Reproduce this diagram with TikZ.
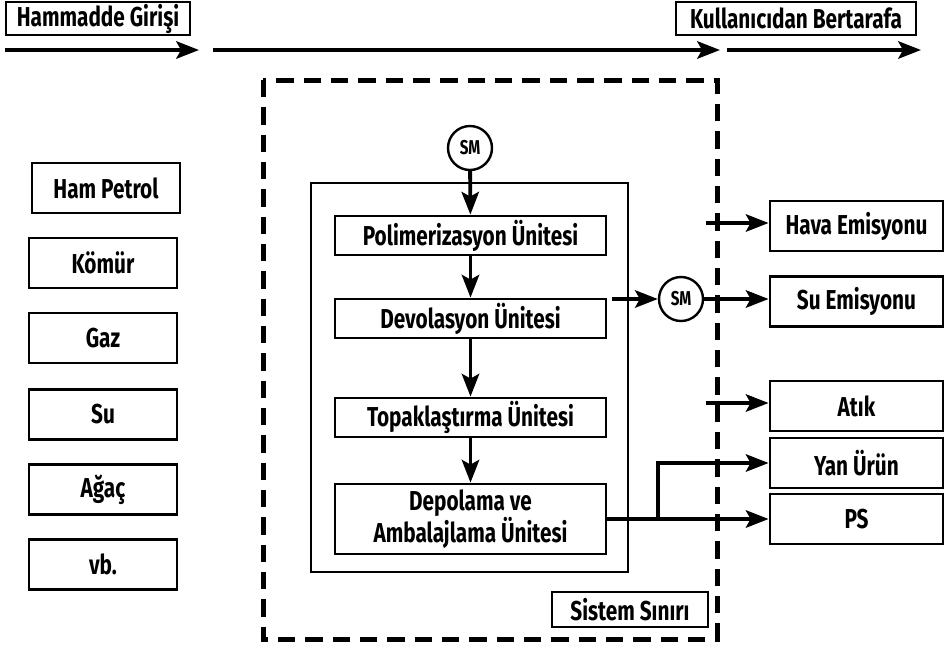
\documentclass[tikz,border=0pt]{standalone}
\usepackage{fontspec}
\setmainfont[FakeStretch=0.76]{Fira Sans}
\usetikzlibrary{arrows.meta}
\tikzset{
  lbl/.style={font=\fontsize{20.5}{23}\selectfont\bfseries, align=center, inner sep=0pt},
  box/.style={lbl, draw, line width=2.1pt, rectangle},
  leftbox/.style={box, minimum width=111pt, minimum height=37.5pt},
  unitbox/.style={box, minimum width=203.25pt, minimum height=29.25pt},
  outbox/.style={box, minimum width=129.75pt, minimum height=37.5pt},
  smnode/.style={draw, circle, line width=1.8pt, minimum size=33pt, inner sep=0pt,
    font=\fontsize{15}{16}\selectfont\bfseries},
  arr/.style={line width=2.9pt, -{Stealth[length=17pt, width=13pt, inset=3.5pt]}},
  boundary/.style={line width=3.75pt, dash pattern=on 13pt off 7.5pt},
}
\begin{document}
\begin{tikzpicture}[x=0.75pt, y=-0.75pt]
  \useasboundingbox (0,0) rectangle (946,647);

  % life-cycle stages along the top
  \node[box, minimum width=138pt, minimum height=24.75pt] (hg) at (98,18.5) {Hammadde Girişi};
  \node[box, minimum width=180pt, minimum height=24.75pt] (kb) at (796,18.5) {Kullanıcıdan Bertarafa};
  \coordinate (t0) at (5,50);
  \coordinate (t1) at (199,50);
  \coordinate (t2) at (213,50);
  \coordinate (t3) at (720,50);
  \coordinate (t4) at (727,50);
  \coordinate (t5) at (921,50);
  \draw[arr] (t0) -- (t1);
  \draw[arr] (t2) -- (t3);
  \draw[arr] (t4) -- (t5);

  % raw material inputs
  \node[leftbox] (hp) at (106,188) {Ham Petrol};
  \node[leftbox] (km) at (103,263) {Kömür};
  \node[leftbox] (gz) at (103,338) {Gaz};
  \node[leftbox] (su) at (103,414.5) {Su};
  \node[leftbox] (ag) at (103,489.5) {Ağaç};
  \node[leftbox] (vb) at (103,564.5) {vb.};

  % system boundary and plant
  \draw[boundary] (263,80) rectangle (717,639);
  \draw[line width=1.6pt] (311,183) rectangle (628,572);

  \node[smnode] (sm1) at (470,148) {SM};
  \node[unitbox] (pol) at (470.5,235.5) {Polimerizasyon Ünitesi};
  \node[unitbox] (dev) at (470.5,318.5) {Devolasyon Ünitesi};
  \node[unitbox] (top) at (470.5,417.5) {Topaklaştırma Ünitesi};
  \node[unitbox, minimum height=52.5pt] (dep) at (470.5,519) {Depolama ve\\Ambalajlama Ünitesi};

  \draw[arr] (sm1) -- (pol);
  \draw[arr] (pol) -- (dev);
  \draw[arr] (dev) -- (top);
  \draw[arr] (top) -- (dep);

  \node[box, minimum width=117pt, minimum height=26.25pt] (ss) at (630,609.5) {Sistem Sınırı};

  % outputs
  \node[outbox] (hava) at (856.5,226) {Hava Emisyonu};
  \node[outbox] (suem) at (856.5,301.5) {Su Emisyonu};
  \node[outbox] (atik) at (856.5,406) {Atık};
  \node[outbox] (yan) at (856.5,463) {Yan Ürün};
  \node[outbox] (ps) at (856.5,519) {PS};

  \node[smnode] (sm2) at (681,299) {SM};
  \coordinate (dv) at (612,299);
  \draw[arr] (dv) -- (sm2);
  \draw[arr] (sm2.east) -- (sm2.east -| suem.west);

  \coordinate (hv) at (706,223);
  \draw[arr] (hv) -- (hv -| hava.west);
  \coordinate (at) at (706,403);
  \draw[arr] (at) -- (at -| atik.west);

  \coordinate (br) at (658,519);
  \draw[arr] (dep.east) -- (ps.west);
  \draw[arr] (br) |- (yan.west);
\end{tikzpicture}
\end{document}
